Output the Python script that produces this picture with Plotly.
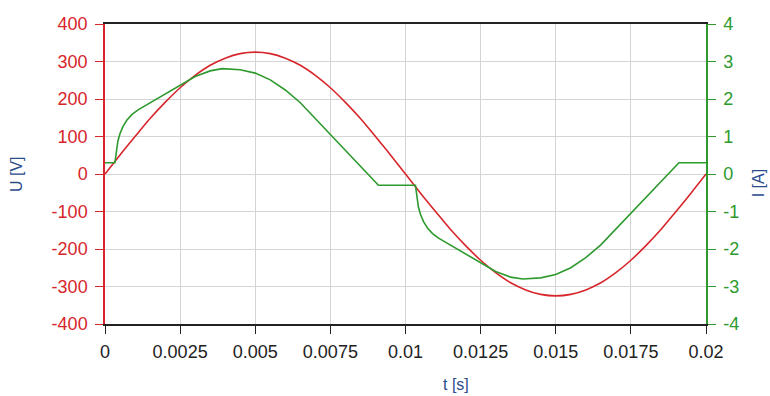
import plotly.graph_objects as go

# Supply voltage samples (time in s, voltage in V)
t_u = [0.0, 0.0005, 0.001, 0.0015, 0.002, 0.0025, 0.003, 0.0035, 0.004, 0.0045,
       0.005, 0.0055, 0.006, 0.0065, 0.007, 0.0075, 0.008, 0.0085, 0.009, 0.0095,
       0.01, 0.0105, 0.011, 0.0115, 0.012, 0.0125, 0.013, 0.0135, 0.014, 0.0145,
       0.015, 0.0155, 0.016, 0.0165, 0.017, 0.0175, 0.018, 0.0185, 0.019, 0.0195, 0.02]
u_vals = [0, 51, 100, 148, 191, 230, 263, 290, 309, 321,
          325, 321, 309, 290, 263, 230, 191, 148, 100, 51,
          0, -51, -100, -148, -191, -230, -263, -290, -309, -321,
          -325, -321, -309, -290, -263, -230, -191, -148, -100, -51, 0]

# Load current samples (time in s, current in A)
t_i = [0.0, 0.00033, 0.00038, 0.00043, 0.0005, 0.0006, 0.00073, 0.0009, 0.0011, 0.0015,
       0.002, 0.0025, 0.003, 0.0035, 0.0039, 0.0045, 0.005, 0.0055, 0.006, 0.0065,
       0.007, 0.0075, 0.008, 0.0085, 0.0091,
       0.01033, 0.01038, 0.01043, 0.0105, 0.0106, 0.01073, 0.0109, 0.0111, 0.0115,
       0.012, 0.0125, 0.013, 0.0135, 0.0139, 0.0145, 0.015, 0.0155, 0.016, 0.0165,
       0.017, 0.0175, 0.018, 0.0185, 0.0191, 0.02]
i_vals = [0.3, 0.3, 0.6, 0.88, 1.08, 1.27, 1.44, 1.59, 1.71, 1.9,
          2.13, 2.37, 2.6, 2.75, 2.81, 2.78, 2.69, 2.51, 2.24, 1.9,
          1.48, 1.06, 0.64, 0.2, -0.3,
          -0.3, -0.6, -0.88, -1.08, -1.27, -1.44, -1.59, -1.71, -1.9,
          -2.13, -2.37, -2.6, -2.75, -2.8, -2.77, -2.68, -2.5, -2.23, -1.89,
          -1.47, -1.04, -0.62, -0.19, 0.3, 0.3]

x_ticks = [0, 0.0025, 0.005, 0.0075, 0.01, 0.0125, 0.015, 0.0175, 0.02]
x_labels = ["0", "0.0025", "0.005", "0.0075", "0.01", "0.0125", "0.015", "0.0175", "0.02"]
u_ticks = [-400, -300, -200, -100, 0, 100, 200, 300, 400]
u_labels = ["-400", "-300", "-200", "-100", "0", "100", "200", "300", "400"]
i_ticks = [-4, -3, -2, -1, 0, 1, 2, 3, 4]
i_labels = ["-4", "-3", "-2", "-1", "0", "1", "2", "3", "4"]

RED = "#d7262b"
GREEN = "#2e9a2e"
TITLE = "#2b4c8c"
GRID = "#d4d4d4"
FONT = "Liberation Sans, Arial, sans-serif"
TICK_SIZE = 18

fig = go.Figure()
fig.add_trace(go.Scatter(x=t_u, y=u_vals, mode="lines", name="U",
                         line=dict(color=RED, width=1.6, shape="spline", smoothing=1.0)))
fig.add_trace(go.Scatter(x=t_i, y=i_vals, mode="lines", name="I", yaxis="y2",
                         line=dict(color=GREEN, width=1.6)))

fig.update_layout(
    width=770, height=396,
    margin=dict(l=105, r=64, t=24, b=72),
    paper_bgcolor="white", plot_bgcolor="white",
    showlegend=False,
    font=dict(family=FONT, size=TICK_SIZE),
    xaxis=dict(range=[0, 0.02], tickvals=x_ticks, ticktext=x_labels,
               showgrid=True, gridcolor=GRID, gridwidth=1,
               showline=True, linecolor="#222222", linewidth=1.5, mirror=True,
               ticks="outside", ticklen=8, tickcolor="#222222",
               ticklabelstandoff=3,
               tickfont=dict(color="#222222", size=TICK_SIZE), zeroline=False),
    yaxis=dict(range=[-400, 400], tickvals=u_ticks, ticktext=u_labels,
               showgrid=True, gridcolor=GRID, gridwidth=1,
               showline=True, linecolor=RED, linewidth=1.5,
               ticks="outside", ticklen=8, tickcolor=RED,
               ticklabelstandoff=4,
               tickfont=dict(color=RED, size=TICK_SIZE), zeroline=False),
    yaxis2=dict(range=[-4, 4], tickvals=i_ticks, ticktext=i_labels,
                overlaying="y", side="right", showgrid=False,
                showline=True, linecolor=GREEN, linewidth=1.5,
                ticks="outside", ticklen=8, tickcolor=GREEN,
                ticklabelstandoff=4,
                tickfont=dict(color=GREEN, size=TICK_SIZE), zeroline=False),
    annotations=[
        dict(text="U [V]", xref="paper", yref="paper", x=-0.148, y=0.5,
             xanchor="center", yanchor="middle",
             textangle=-90, showarrow=False, font=dict(color=TITLE, size=16)),
        dict(text="I [A]", xref="paper", yref="paper", x=1.087, y=0.47,
             xanchor="center", yanchor="middle",
             textangle=-90, showarrow=False, font=dict(color=TITLE, size=16)),
        dict(text="t [s]", xref="paper", yref="paper", x=0.584, y=-0.2,
             xanchor="center", yanchor="middle", showarrow=False,
             font=dict(color=TITLE, size=16)),
    ],
)

fig.write_html("out.html")
